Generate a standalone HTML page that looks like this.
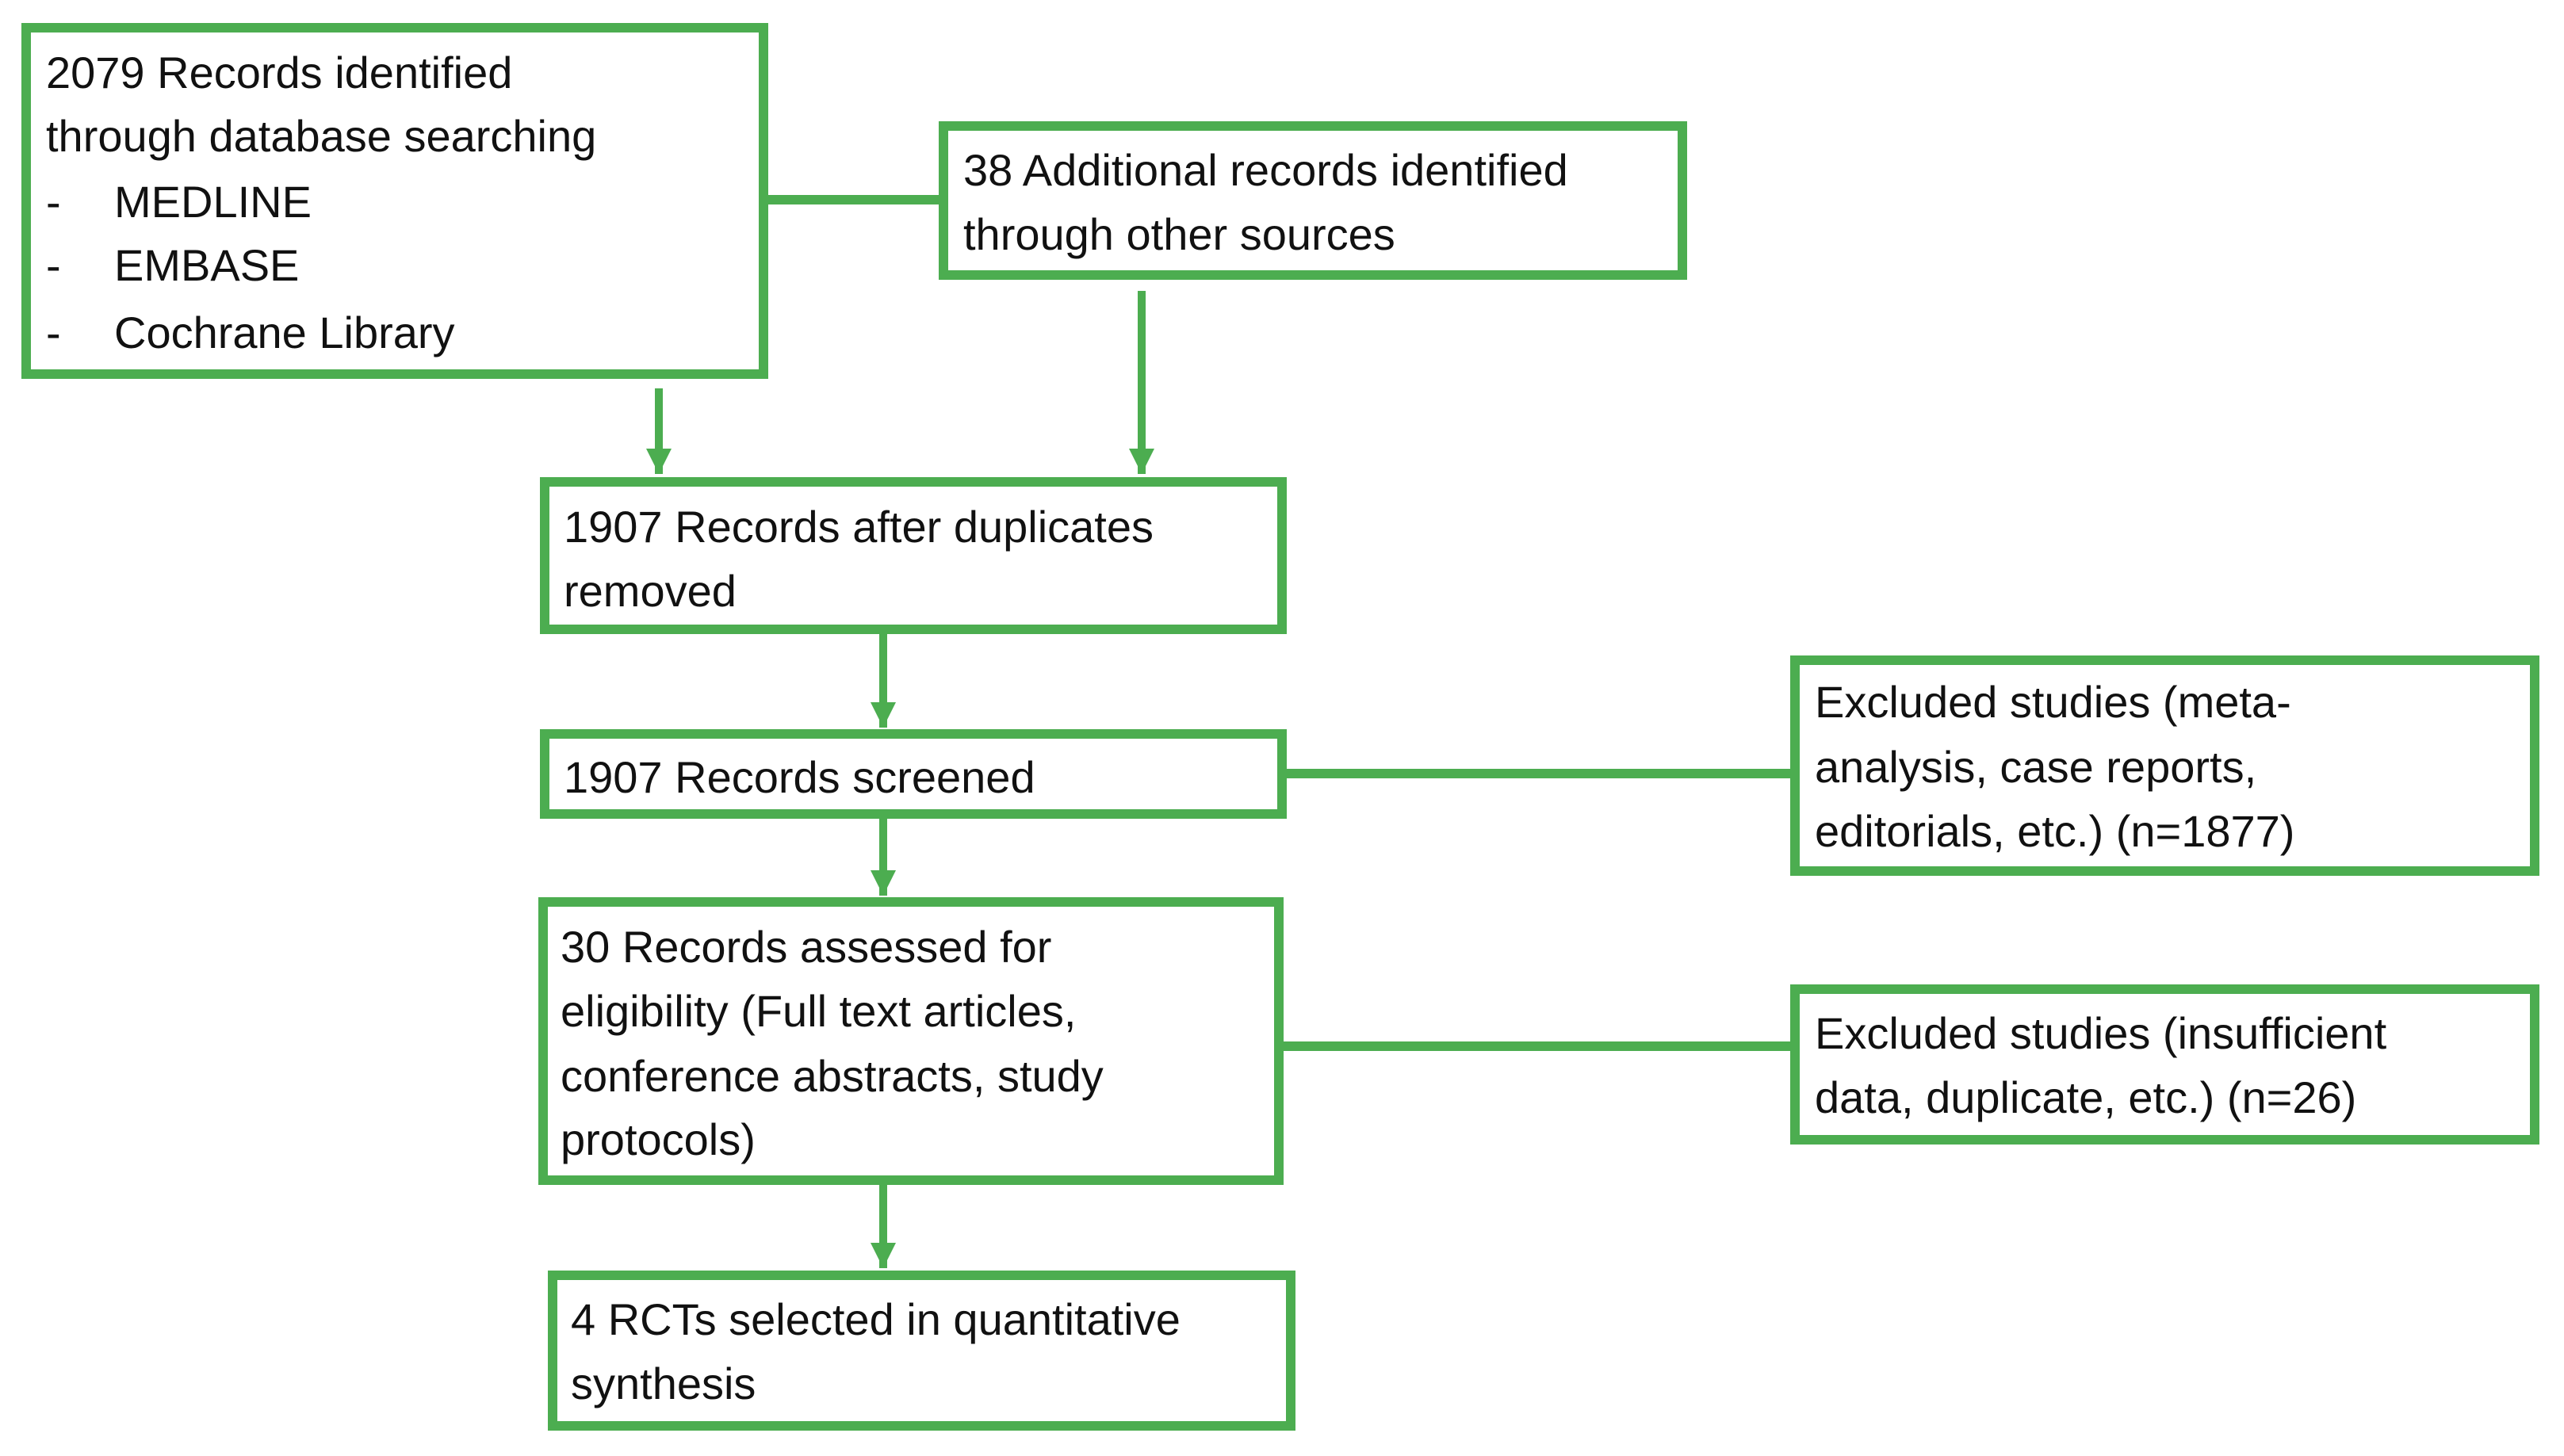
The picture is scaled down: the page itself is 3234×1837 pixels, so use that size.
<!DOCTYPE html>
<html><head><meta charset="utf-8"><style>html,body{margin:0;padding:0;background:#fff}svg{display:block}</style></head>
<body>
<svg width="3234" height="1837" viewBox="0 0 3234 1837" xmlns="http://www.w3.org/2000/svg">
<defs>
<marker id="a" viewBox="0 0 10 10" refX="10" refY="5" markerWidth="3.2" markerHeight="3.2" markerUnits="strokeWidth" orient="auto"><path d="M0,0 L10,5 L0,10 z" fill="#4cad50"/></marker>
</defs>
<g fill="none" stroke="#4cad50" stroke-width="12">
<rect x="33" y="35" width="930" height="437"/>
<rect x="1190" y="159" width="932" height="188"/>
<rect x="687" y="608" width="930" height="186"/>
<rect x="687" y="926" width="930" height="101"/>
<rect x="685" y="1138" width="928" height="351"/>
<rect x="697" y="1609" width="931" height="190"/>
<rect x="2264" y="833" width="933" height="266"/>
<rect x="2264" y="1248" width="933" height="190"/>
<line x1="963" y1="252" x2="1190" y2="252"/>
<line x1="1617" y1="976" x2="2264" y2="976"/>
<line x1="1613" y1="1320" x2="2264" y2="1320"/>
</g>
<g stroke="#4cad50" stroke-width="10" fill="none">
<line x1="831" y1="490" x2="831" y2="598" marker-end="url(#a)"/>
<line x1="1440" y1="367" x2="1440" y2="598" marker-end="url(#a)"/>
<line x1="1114" y1="800" x2="1114" y2="918" marker-end="url(#a)"/>
<line x1="1114" y1="1033" x2="1114" y2="1130" marker-end="url(#a)"/>
<line x1="1114" y1="1495" x2="1114" y2="1600" marker-end="url(#a)"/>
</g>
<g font-family="'Liberation Sans', sans-serif" font-size="56" fill="#111">
<text x="58" y="111">2079 Records identified</text>
<text x="58" y="191">through database searching</text>
<text x="58" y="274">-</text><text x="144" y="274">MEDLINE</text>
<text x="58" y="354">-</text><text x="144" y="354">EMBASE</text>
<text x="58" y="439">-</text><text x="144" y="439">Cochrane Library</text>
<text x="1215" y="234">38 Additional records identified</text>
<text x="1215" y="315">through other sources</text>
<text x="711" y="684">1907 Records after duplicates</text>
<text x="711" y="765">removed</text>
<text x="711" y="1000">1907 Records screened</text>
<text x="707" y="1214">30 Records assessed for</text>
<text x="707" y="1295">eligibility (Full text articles,</text>
<text x="707" y="1377">conference abstracts, study</text>
<text x="707" y="1457">protocols)</text>
<text x="720" y="1684">4 RCTs selected in quantitative</text>
<text x="720" y="1765">synthesis</text>
<text x="2289" y="905">Excluded studies (meta-</text>
<text x="2289" y="987">analysis, case reports,</text>
<text x="2289" y="1068">editorials, etc.) (n=1877)</text>
<text x="2289" y="1323">Excluded studies (insufficient</text>
<text x="2289" y="1404">data, duplicate, etc.) (n=26)</text>
</g>
</svg>
</body></html>
